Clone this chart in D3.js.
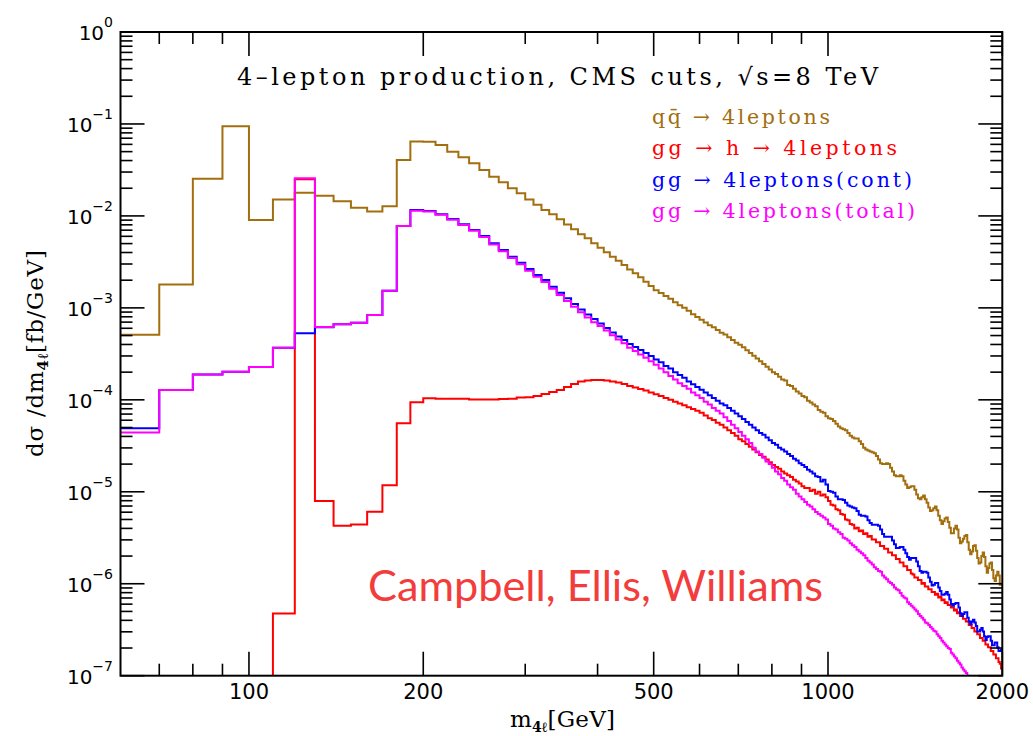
<!DOCTYPE html>
<html><head><meta charset="utf-8">
<script src="https://cdn.jsdelivr.net/npm/d3@7"></script>
<style>body{margin:0;background:#fff}svg{display:block}</style>
</head><body>
<svg id="chart" width="1033" height="736"></svg>
<script>
// ---- categories: 10 GeV bins of m4l from 60 to 2000 GeV ----
const binLowEdges = d3.range(60, 2000, 10);
const binWidth = 10;

// ---- series values, dσ/dm4l [fb/GeV], one value per bin ----
const qqbar4l = [
5.1e-4,1.8e-3,2.54e-2,9.42e-2,
9.0e-3,1.51e-2,1.79e-2,1.66e-2,1.44e-2,1.23e-2,1.12e-2,1.27e-2,4.05e-2,6.45e-2,
6.4e-2,5.9e-2,4.99e-2,4.34e-2,3.73e-2,3.16e-2,2.67e-2,2.32e-2,2.0e-2,1.76e-2,
1.51e-2,1.32e-2,1.16e-2,1.04e-2,9.18e-3,8.09e-3,7.14e-3,6.31e-3,5.70e-3,5.04e-3,
4.51e-3,4.02e-3,3.60e-3,3.26e-3,2.92e-3,2.62e-3,2.38e-3,2.15e-3,1.92e-3,1.73e-3,
1.55e-3,1.45e-3,1.35e-3,1.26e-3,1.15e-3,1.07e-3,1.00e-3,9.33e-4,8.51e-4,7.94e-4,
7.41e-4,6.92e-4,6.46e-4,6.17e-4,5.75e-4,5.37e-4,5.13e-4,4.79e-4,4.47e-4,4.17e-4,
3.98e-4,3.72e-4,3.47e-4,3.24e-4,3.02e-4,2.82e-4,2.63e-4,2.45e-4,2.29e-4,2.14e-4,
2.00e-4,1.91e-4,1.78e-4,1.66e-4,1.62e-4,1.45e-4,1.41e-4,1.32e-4,1.23e-4,1.17e-4,
1.10e-4,1.07e-4,9.8e-5,9.33e-5,8.91e-5,8.51e-5,7.76e-5,7.41e-5,7.24e-5,6.61e-5,
6.31e-5,6.17e-5,5.89e-5,5.50e-5,5.13e-5,4.90e-5,4.79e-5,4.68e-5,4.37e-5,4.07e-5,
3.89e-5,3.80e-5,3.80e-5,3.55e-5,3.31e-5,3.02e-5,2.88e-5,2.82e-5,2.75e-5,2.69e-5,
2.63e-5,2.45e-5,2.24e-5,2.04e-5,2.00e-5,2.00e-5,2.04e-5,2.00e-5,1.82e-5,1.66e-5,
1.51e-5,1.48e-5,1.48e-5,1.51e-5,1.48e-5,1.32e-5,1.20e-5,1.10e-5,1.12e-5,1.15e-5,
1.15e-5,1.05e-5,9.33e-6,8.51e-6,8.32e-6,8.71e-6,9.12e-6,8.32e-6,7.59e-6,6.76e-6,
6.17e-6,6.31e-6,6.61e-6,6.92e-6,6.31e-6,5.50e-6,4.90e-6,4.47e-6,4.79e-6,5.13e-6,
5.25e-6,4.68e-6,4.07e-6,3.55e-6,3.55e-6,3.98e-6,4.27e-6,3.89e-6,3.16e-6,2.75e-6,
2.88e-6,3.09e-6,3.31e-6,3.39e-6,2.82e-6,2.34e-6,2.09e-6,2.24e-6,2.57e-6,2.63e-6,
2.29e-6,1.91e-6,1.66e-6,1.70e-6,2.00e-6,2.19e-6,1.95e-6,1.55e-6,1.32e-6,1.48e-6,
1.66e-6,1.70e-6,1.41e-6,1.15e-6,1.07e-6,1.23e-6,1.35e-6,1.23e-6,9.77e-7,1.00e-6];

const ggHiggs4l = [
1e-8,1e-8,1e-8,1e-8,
2.0e-8,4.76e-7,2.5e-2,7.93e-6,4.27e-6,4.42e-6,6.07e-6,1.18e-5,5.55e-5,9.4e-5,
1.04e-4,1.03e-4,1.03e-4,1.03e-4,1.01e-4,1.01e-4,1.01e-4,1.02e-4,1.03e-4,1.06e-4,
1.07e-4,1.10e-4,1.16e-4,1.22e-4,1.28e-4,1.38e-4,1.49e-4,1.58e-4,1.62e-4,1.64e-4,
1.64e-4,1.62e-4,1.58e-4,1.54e-4,1.49e-4,1.41e-4,1.36e-4,1.31e-4,1.26e-4,1.20e-4,
1.15e-4,1.10e-4,1.05e-4,1.00e-4,9.55e-5,9.12e-5,8.71e-5,8.32e-5,7.94e-5,7.59e-5,
7.24e-5,6.76e-5,6.31e-5,6.03e-5,5.62e-5,5.37e-5,5.01e-5,4.68e-5,4.37e-5,4.07e-5,
3.72e-5,3.55e-5,3.31e-5,3.09e-5,2.88e-5,2.69e-5,2.51e-5,2.40e-5,2.24e-5,2.09e-5,
1.95e-5,1.86e-5,1.78e-5,1.66e-5,1.58e-5,1.51e-5,1.45e-5,1.35e-5,1.29e-5,1.23e-5,
1.15e-5,1.10e-5,1.10e-5,1.02e-5,1.05e-5,9.55e-6,1.00e-5,9.12e-6,9.33e-6,8.71e-6,
7.94e-6,7.24e-6,7.08e-6,6.46e-6,6.31e-6,5.75e-6,5.62e-6,5.01e-6,4.90e-6,4.47e-6,
4.37e-6,3.98e-6,4.07e-6,3.72e-6,3.80e-6,3.47e-6,3.55e-6,3.24e-6,3.31e-6,3.02e-6,
3.02e-6,2.82e-6,2.82e-6,2.57e-6,2.57e-6,2.40e-6,2.40e-6,2.19e-6,2.19e-6,2.04e-6,
2.04e-6,1.86e-6,1.86e-6,1.70e-6,1.70e-6,1.55e-6,1.55e-6,1.41e-6,1.41e-6,1.29e-6,
1.26e-6,1.17e-6,1.17e-6,1.10e-6,1.10e-6,1.00e-6,1.02e-6,9.33e-7,9.33e-7,8.71e-7,
8.71e-7,8.13e-7,8.13e-7,7.59e-7,7.76e-7,7.08e-7,7.24e-7,6.61e-7,6.76e-7,6.17e-7,
6.31e-7,5.89e-7,5.89e-7,5.50e-7,5.50e-7,5.13e-7,5.25e-7,4.79e-7,4.90e-7,4.47e-7,
4.57e-7,4.17e-7,4.17e-7,3.89e-7,3.89e-7,3.55e-7,3.55e-7,3.31e-7,3.31e-7,3.02e-7,
3.02e-7,2.82e-7,2.82e-7,2.57e-7,2.57e-7,2.40e-7,2.40e-7,2.19e-7,2.19e-7,2.04e-7,
2.04e-7,1.86e-7,1.86e-7,1.70e-7,1.70e-7,1.55e-7,1.55e-7,1.41e-7,1.35e-7,1.20e-7];

const ggCont4l = [
4.9e-5,1.28e-4,1.89e-4,2.02e-4,
2.27e-4,3.69e-4,5.29e-4,6.14e-4,6.62e-4,6.90e-4,8.36e-4,1.54e-3,7.76e-3,1.16e-2,
1.13e-2,1.04e-2,9.25e-3,8.10e-3,7.03e-3,6.04e-3,5.04e-3,4.26e-3,3.60e-3,3.10e-3,
2.64e-3,2.28e-3,2.01e-3,1.70e-3,1.46e-3,1.27e-3,1.10e-3,9.59e-4,8.47e-4,7.57e-4,
6.76e-4,6.04e-4,5.40e-4,4.88e-4,4.47e-4,4.04e-4,3.75e-4,3.48e-4,3.23e-4,2.99e-4,
2.75e-4,2.57e-4,2.34e-4,2.19e-4,2.00e-4,1.86e-4,1.74e-4,1.58e-4,1.48e-4,1.38e-4,
1.29e-4,1.20e-4,1.12e-4,1.05e-4,9.77e-5,9.12e-5,8.71e-5,8.13e-5,7.59e-5,7.08e-5,
6.61e-5,6.17e-5,5.75e-5,5.37e-5,5.01e-5,4.68e-5,4.37e-5,4.17e-5,3.89e-5,3.63e-5,
3.39e-5,3.24e-5,3.02e-5,2.88e-5,2.75e-5,2.57e-5,2.45e-5,2.29e-5,2.19e-5,2.04e-5,
1.95e-5,1.86e-5,1.74e-5,1.66e-5,1.58e-5,1.48e-5,1.45e-5,1.29e-5,1.35e-5,1.20e-5,
1.02e-5,1.00e-5,9.77e-6,8.91e-6,8.32e-6,8.32e-6,8.13e-6,7.59e-6,7.08e-6,6.92e-6,
6.76e-6,6.61e-6,6.17e-6,5.62e-6,5.50e-6,5.50e-6,5.37e-6,4.90e-6,4.57e-6,4.37e-6,
4.37e-6,4.37e-6,4.27e-6,3.89e-6,3.47e-6,3.24e-6,3.24e-6,3.24e-6,3.24e-6,2.95e-6,
2.69e-6,2.45e-6,2.45e-6,2.51e-6,2.51e-6,2.34e-6,2.14e-6,1.95e-6,1.82e-6,1.91e-6,
1.91e-6,1.91e-6,1.74e-6,1.55e-6,1.38e-6,1.32e-6,1.35e-6,1.35e-6,1.32e-6,1.17e-6,
1.05e-6,9.55e-7,9.77e-7,1.02e-6,1.02e-6,9.12e-7,8.32e-7,7.59e-7,7.59e-7,7.76e-7,
8.13e-7,7.59e-7,6.76e-7,6.03e-7,5.75e-7,6.03e-7,6.17e-7,6.17e-7,5.50e-7,4.79e-7,
4.47e-7,4.68e-7,4.90e-7,4.90e-7,4.27e-7,3.89e-7,3.63e-7,3.89e-7,4.07e-7,3.80e-7,
3.47e-7,3.02e-7,3.02e-7,3.16e-7,3.31e-7,3.02e-7,2.69e-7,2.45e-7,2.63e-7,2.69e-7,
2.69e-7,2.40e-7,2.14e-7,2.14e-7,2.29e-7,2.29e-7,2.04e-7,1.86e-7,1.86e-7,1.91e-7];

const ggTotal4l = [
4.4e-5,1.28e-4,1.89e-4,2.02e-4,
2.27e-4,3.69e-4,2.56e-2,6.2e-4,6.62e-4,6.90e-4,8.36e-4,1.54e-3,7.76e-3,1.14e-2,
1.12e-2,1.03e-2,9.1e-3,7.95e-3,6.9e-3,5.9e-3,4.9e-3,4.13e-3,3.48e-3,2.98e-3,
2.53e-3,2.18e-3,1.91e-3,1.61e-3,1.38e-3,1.19e-3,1.03e-3,8.95e-4,7.85e-4,6.96e-4,
6.35e-4,5.66e-4,5.04e-4,4.54e-4,4.13e-4,3.68e-4,3.39e-4,3.12e-4,2.87e-4,2.63e-4,
2.40e-4,2.19e-4,2.00e-4,1.82e-4,1.66e-4,1.51e-4,1.41e-4,1.32e-4,1.20e-4,1.12e-4,
1.05e-4,9.55e-5,8.91e-5,8.13e-5,7.59e-5,7.08e-5,6.46e-5,5.89e-5,5.37e-5,4.90e-5,
4.47e-5,4.07e-5,3.72e-5,3.39e-5,3.02e-5,2.75e-5,2.57e-5,2.34e-5,2.14e-5,2.00e-5,
1.82e-5,1.66e-5,1.55e-5,1.41e-5,1.32e-5,1.20e-5,1.12e-5,1.05e-5,9.55e-6,8.91e-6,
8.32e-6,7.76e-6,7.24e-6,6.92e-6,6.46e-6,6.03e-6,5.75e-6,5.50e-6,5.25e-6,5.01e-6,
4.47e-6,4.27e-6,3.98e-6,3.89e-6,3.63e-6,3.47e-6,3.16e-6,3.09e-6,2.95e-6,2.75e-6,
2.63e-6,2.51e-6,2.34e-6,2.24e-6,2.14e-6,2.04e-6,1.91e-6,1.78e-6,1.70e-6,1.62e-6,
1.51e-6,1.45e-6,1.38e-6,1.35e-6,1.23e-6,1.17e-6,1.12e-6,1.05e-6,1.02e-6,9.77e-7,
9.12e-7,8.71e-7,8.51e-7,7.94e-7,7.41e-7,7.08e-7,6.92e-7,6.31e-7,6.03e-7,5.75e-7,
5.50e-7,5.25e-7,5.01e-7,4.68e-7,4.47e-7,4.27e-7,4.07e-7,3.80e-7,3.72e-7,3.55e-7,
3.39e-7,3.24e-7,3.09e-7,3.02e-7,2.82e-7,2.69e-7,2.57e-7,2.40e-7,2.29e-7,2.19e-7,
2.09e-7,2.00e-7,1.95e-7,1.78e-7,1.70e-7,1.62e-7,1.55e-7,1.45e-7,1.38e-7,1.32e-7,
1.23e-7,1.17e-7,1.12e-7,1.07e-7,1.00e-7,9.55e-8,9.12e-8,8.71e-8,8.13e-8,7.76e-8,
7.41e-8,7.08e-8,6.76e-8,6.46e-8,6.17e-8,5.89e-8,5.62e-8,5.37e-8,5.13e-8,4.90e-8,
4.68e-8,4.47e-8,4.27e-8,4.07e-8,3.89e-8,3.72e-8,3.55e-8,3.39e-8,3.24e-8,3.09e-8];

// ---- tick labels ----
const xMajorTicks = [100, 200, 500, 1000, 2000];
const xMinorTicks = [70, 80, 90, 300, 400, 600, 700, 800, 900];
const yDecadeExponents = [0, -1, -2, -3, -4, -5, -6, -7];

const seriesNames = ["qq\u0304 \u2192 4leptons", "gg \u2192 h \u2192 4leptons", "gg \u2192 4leptons(cont)", "gg \u2192 4leptons(total)"];
const seriesColors = ["#a26e0e", "#ff0000", "#0000ff", "#ff00ff"];

const svg = d3.select("#chart");
const L = 120.5, R = 1002.3, T = 32, B = 675.7;
const x = d3.scaleLog().domain([60, 2000]).range([L, R]);
const y = d3.scaleLog().domain([1e-7, 1]).range([B, T]);

svg.append("defs").append("clipPath").attr("id", "plotclip")
  .append("rect").attr("x", L).attr("y", T).attr("width", R - L).attr("height", B - T);

const series = [qqbar4l, ggHiggs4l, ggCont4l, ggTotal4l];
const line = d3.line().x(d => x(d[0])).y(d => y(d[1])).curve(d3.curveStepAfter);
const gData = svg.append("g").attr("clip-path", "url(#plotclip)");
series.forEach((vals, k) => {
  const pts = binLowEdges.map((e, i) => [e, vals[i]]);
  pts.push([binLowEdges[binLowEdges.length - 1] + binWidth, vals[vals.length - 1]]);
  gData.append("path").attr("d", line(pts)).attr("fill", "none")
    .attr("stroke", seriesColors[k]).attr("stroke-width", 2).attr("stroke-linejoin", "miter");
});

// ---- axes: ticks on all four sides, pointing inward ----
const gAx = svg.append("g").attr("stroke", "#000").attr("stroke-width", 1.6);
const majLen = 24, minLen = 12;
xMajorTicks.concat(xMinorTicks).forEach(v => {
  const len = xMajorTicks.includes(v) ? majLen : minLen;
  const px = x(v);
  gAx.append("line").attr("x1", px).attr("x2", px).attr("y1", B).attr("y2", B - len);
  gAx.append("line").attr("x1", px).attr("x2", px).attr("y1", T).attr("y2", T + len);
});
yDecadeExponents.forEach(e => {
  for (let m = 1; m <= 9; m++) {
    const v = m * Math.pow(10, e);
    if (v > 1 + 1e-9 || v < 1e-7 * 0.999) continue;
    const len = m === 1 ? majLen : minLen;
    const py = y(v);
    gAx.append("line").attr("x1", L).attr("x2", L + len).attr("y1", py).attr("y2", py);
    gAx.append("line").attr("x1", R).attr("x2", R - len).attr("y1", py).attr("y2", py);
  }
});
svg.append("rect").attr("x", L).attr("y", T).attr("width", R - L).attr("height", B - T)
  .attr("fill", "none").attr("stroke", "#000").attr("stroke-width", 2);

// x tick labels
svg.append("g").selectAll("text").data(xMajorTicks).join("text")
  .attr("x", d => x(d)).attr("y", B + 23.5).attr("text-anchor", "middle")
  .attr("font-family", "DejaVu Sans").attr("font-size", 21).text(d => d);

// y tick labels
const yl = svg.append("g").selectAll("text").data(yDecadeExponents).join("text")
  .attr("x", 113).attr("y", d => y(Math.pow(10, d)) + 8)
  .attr("text-anchor", "end").attr("font-family", "DejaVu Sans").attr("font-size", 20);
yl.append("tspan").text("10");
yl.append("tspan").attr("dy", -13).attr("font-size", 14).text(d => d === 0 ? "0" : "\u2212" + (-d));

// axis titles
const xt = svg.append("text").attr("x", 510).attr("y", 727)
  .attr("font-family", "DejaVu Serif").attr("font-size", 23)
  .attr("textLength", 105).attr("lengthAdjust", "spacing");
xt.append("tspan").text("m");
xt.append("tspan").attr("font-size", 14).attr("font-weight", "bold").attr("dy", 5).text("4\u2113");
xt.append("tspan").attr("dy", -5).text("[GeV]");

const ytt = svg.append("text").attr("transform", "translate(43,457) rotate(-90)")
  .attr("font-family", "DejaVu Serif").attr("font-size", 23)
  .attr("textLength", 207).attr("lengthAdjust", "spacing");
ytt.append("tspan").text("d\u03c3 /dm");
ytt.append("tspan").attr("font-size", 15).attr("font-weight", "bold").attr("dy", 5).text("4\u2113");
ytt.append("tspan").attr("dy", -5).text("[fb/GeV]");

// title
svg.append("text").attr("x", 237).attr("y", 85).attr("font-family", "DejaVu Serif")
  .attr("font-size", 24).attr("textLength", 641).attr("lengthAdjust", "spacing")
  .text("4\u2013lepton production, CMS cuts, \u221as=8 TeV");

// legend
const legendBaselines = [123.5, 155, 186.5, 217.5];
const legendWidths = [178, 245, 260, 263];
seriesNames.forEach((s, k) => {
  svg.append("text").attr("x", 652).attr("y", legendBaselines[k])
    .attr("font-family", "DejaVu Serif").attr("font-size", 20.5)
    .attr("fill", seriesColors[k]).attr("textLength", legendWidths[k]).attr("lengthAdjust", "spacing")
    .text(s);
});

// credit
svg.append("text").attr("x", 368).attr("y", 601).attr("font-family", "Lato")
  .attr("font-size", 42).attr("fill", "#f33c3c").attr("textLength", 455).attr("lengthAdjust", "spacingAndGlyphs")
  .text("Campbell, Ellis, Williams");
</script>
</body></html>
